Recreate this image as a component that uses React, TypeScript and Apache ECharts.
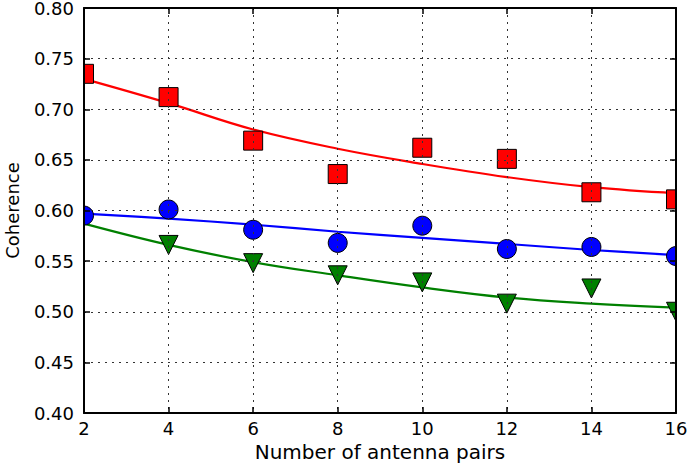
import React, { useEffect, useRef } from "react";
import * as echarts from "echarts";

const xValues = [2, 4, 6, 8, 10, 12, 14, 16];

// measured points
const redPoints = [0.735, 0.712, 0.669, 0.636, 0.662, 0.651, 0.618, 0.611];
const bluePoints = [0.595, 0.601, 0.581, 0.568, 0.585, 0.562, 0.564, 0.555];
const greenPoints: (number | null)[] = [null, 0.566, 0.548, 0.536, 0.529, 0.508, 0.523, 0.5];

// fitted curves
const redFit = [0.730, 0.706, 0.680, 0.661, 0.646, 0.633, 0.623, 0.617];
const blueFit = [0.597, 0.592, 0.586, 0.579, 0.573, 0.567, 0.561, 0.556];
const greenFit = [0.587, 0.566, 0.549, 0.536, 0.524, 0.514, 0.508, 0.504];

const xTicks = { min: 2, max: 16, interval: 2 };
const yTicks = { min: 0.4, max: 0.8, interval: 0.05 };

const xTitle = "Number of antenna pairs";
const yTitle = "Coherence";

const FONT = "DejaVu Sans";

function pairs(vals: (number | null)[]) {
  return xValues
    .map((x, i) => (vals[i] == null ? null : [x, vals[i]]))
    .filter((p) => p !== null) as number[][];
}

export default function App() {
  const ref = useRef<HTMLDivElement>(null);
  useEffect(() => {
    if (!ref.current) return;
    const chart = echarts.init(ref.current, null, { renderer: "svg" });
    const gridSplit = {
      show: true,
      lineStyle: { color: "#333", width: 1, type: [2, 5] as any },
    };
    const label = { color: "#000", fontSize: 18, fontFamily: FONT, lineHeight: 14 };
    const lineAxis = { show: true, lineStyle: { color: "#000", width: 2 } };
    const tick = { show: true, inside: true, length: 6, lineStyle: { color: "#000", width: 1.5 } };
    const fitLine = (data: number[], color: string) => ({
      type: "line",
      data: pairs(data),
      smooth: 0.4,
      showSymbol: false,
      symbol: "none",
      lineStyle: { color, width: 2.2 },
      z: 2,
    });
    const scat = (data: (number | null)[], color: string, symbol: string, size: number, rotate = 0) => ({
      type: "scatter",
      data: pairs(data),
      symbol,
      symbolSize: size,
      symbolRotate: rotate,
      itemStyle: { color, borderColor: "#000", borderWidth: 1, opacity: 1 },
      z: 3,
    });
    chart.setOption({
      animation: false,
      backgroundColor: "#fff",
      grid: { left: 84, top: 8, right: 11, bottom: 50, containLabel: false, outerBoundsMode: "none" },
      xAxis: [
        {
          type: "value",
          position: "bottom",
          ...xTicks,
          z: 10,
          axisLine: lineAxis,
          axisTick: tick,
          axisLabel: { ...label, margin: 8 },
          splitLine: gridSplit,
          name: xTitle,
          nameLocation: "middle",
          nameGap: 29,
          nameTextStyle: { color: "#000", fontSize: 20, fontFamily: FONT, lineHeight: 20 },
        },
        {
          type: "value",
          position: "top",
          ...xTicks,
          z: 10,
          axisLine: lineAxis,
          axisTick: tick,
          axisLabel: { show: false },
          splitLine: { show: false },
        },
      ],
      yAxis: [
        {
          type: "value",
          position: "left",
          ...yTicks,
          z: 10,
          axisLine: lineAxis,
          axisTick: tick,
          axisLabel: { ...label, margin: 10, formatter: (v: number) => v.toFixed(2) },
          splitLine: gridSplit,
          name: yTitle,
          nameLocation: "middle",
          nameGap: 63,
          nameTextStyle: { color: "#000", fontSize: 18, fontFamily: FONT, lineHeight: 18 },
        },
        {
          type: "value",
          position: "right",
          ...yTicks,
          z: 10,
          axisLine: lineAxis,
          axisTick: tick,
          axisLabel: { show: false },
          splitLine: { show: false },
        },
      ],
      graphic: [
        { type: "rect", z: 5, shape: { x: 0, y: 0, width: 83, height: 463 }, style: { fill: "#fff" } },
        { type: "rect", z: 5, shape: { x: 677, y: 0, width: 10, height: 463 }, style: { fill: "#fff" } },
      ],
      series: [
        fitLine(redFit, "#ff0000"),
        fitLine(blueFit, "#0000ff"),
        fitLine(greenFit, "#008000"),
        scat(redPoints, "#ff0000", "rect", 19),
        scat(bluePoints, "#0000ff", "circle", 19),
        scat(greenPoints, "#008000", "triangle", 19, 180),
      ],
    });
    return () => chart.dispose();
  }, []);
  return (
    <div
      ref={ref}
      style={{ position: "fixed", left: 0, top: 0, width: 687, height: 463, background: "#fff" }}
    />
  );
}
